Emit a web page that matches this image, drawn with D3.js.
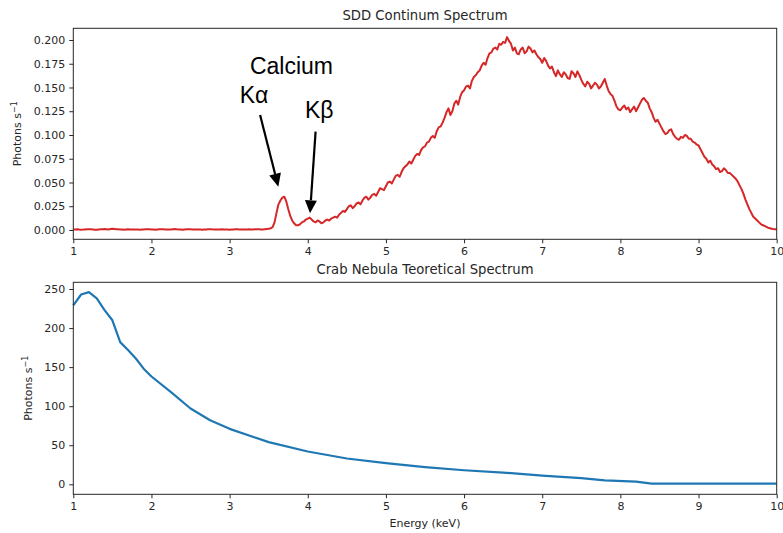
<!DOCTYPE html>
<html>
<head>
<meta charset="utf-8">
<script src="https://cdn.jsdelivr.net/npm/d3@7"></script>
<style>
  html, body { margin: 0; padding: 0; background: #fff; }
  svg text { font-family: "DejaVu Sans", sans-serif; fill: #262626; }
  .note { font-family: "Liberation Sans", Arial, sans-serif; fill: #000; }
</style>
</head>
<body>
<svg id="chart" width="783" height="533"></svg>
<script>
// SDD continuum spectrum: 0.025 keV channels starting at 1 keV (one row = 0.5 keV)
const sddStart = 1.0;
const sddStep = 0.025;
const sddCounts = [
  0.0004, 0.0006, 0.0008, 0.0005, 0.0003, 0.0004, 0.0006, 0.0008, 0.0009, 0.0007, 0.0005, 0.0003, 0.0002, 0.0005, 0.0007, 0.0009, 0.0010, 0.0008, 0.0006, 0.0010,
  0.0012, 0.0011, 0.0009, 0.0007, 0.0005, 0.0004, 0.0003, 0.0005, 0.0007, 0.0006, 0.0004, 0.0005, 0.0006, 0.0004, 0.0002, 0.0004, 0.0005, 0.0007, 0.0008, 0.0007,
  0.0006, 0.0005, 0.0003, 0.0005, 0.0007, 0.0008, 0.0009, 0.0006, 0.0004, 0.0005, 0.0006, 0.0008, 0.0010, 0.0007, 0.0005, 0.0004, 0.0003, 0.0005, 0.0007, 0.0008,
  0.0008, 0.0006, 0.0004, 0.0005, 0.0006, 0.0004, 0.0002, 0.0004, 0.0005, 0.0007, 0.0009, 0.0007, 0.0006, 0.0005, 0.0004, 0.0006, 0.0007, 0.0006, 0.0005, 0.0004,
  0.0003, 0.0005, 0.0006, 0.0007, 0.0008, 0.0006, 0.0005, 0.0004, 0.0004, 0.0006, 0.0007, 0.0006, 0.0006, 0.0008, 0.0009, 0.0007, 0.0005, 0.0006, 0.0008, 0.0010,
  0.0012, 0.0018, 0.003, 0.008, 0.018, 0.027, 0.031, 0.034, 0.035, 0.030, 0.022, 0.015, 0.010, 0.007, 0.005, 0.005, 0.006, 0.008, 0.009, 0.011,
  0.012, 0.013, 0.011, 0.009, 0.008, 0.010, 0.009, 0.007, 0.008, 0.010, 0.011, 0.010, 0.012, 0.013, 0.014, 0.013, 0.016, 0.018, 0.020, 0.019,
  0.022, 0.025, 0.026, 0.023, 0.025, 0.028, 0.029, 0.027, 0.031, 0.034, 0.035, 0.032, 0.034, 0.037, 0.038, 0.036, 0.040, 0.044, 0.043, 0.042,
  0.046, 0.050, 0.051, 0.049, 0.053, 0.057, 0.058, 0.056, 0.061, 0.065, 0.067, 0.069, 0.072, 0.070, 0.074, 0.078, 0.080, 0.079, 0.084, 0.087,
  0.088, 0.092, 0.093, 0.097, 0.099, 0.097, 0.104, 0.108, 0.109, 0.113, 0.118, 0.124, 0.128, 0.121, 0.125, 0.133, 0.136, 0.132, 0.140, 0.145,
  0.147, 0.151, 0.152, 0.149, 0.157, 0.161, 0.163, 0.166, 0.168, 0.173, 0.176, 0.174, 0.181, 0.186, 0.187, 0.191, 0.192, 0.190, 0.196, 0.195,
  0.198, 0.197, 0.203, 0.199, 0.196, 0.189, 0.192, 0.186, 0.185, 0.190, 0.192, 0.186, 0.188, 0.193, 0.191, 0.187, 0.189, 0.185, 0.182, 0.180,
  0.176, 0.181, 0.178, 0.173, 0.170, 0.172, 0.166, 0.162, 0.168, 0.164, 0.161, 0.166, 0.164, 0.160, 0.159, 0.167, 0.165, 0.161, 0.167, 0.163,
  0.158, 0.154, 0.151, 0.156, 0.154, 0.149, 0.152, 0.155, 0.153, 0.149, 0.151, 0.155, 0.159, 0.152, 0.146, 0.143, 0.141, 0.136, 0.130, 0.127,
  0.126, 0.129, 0.131, 0.127, 0.129, 0.124, 0.127, 0.130, 0.125, 0.129, 0.133, 0.137, 0.139, 0.136, 0.134, 0.128, 0.124, 0.118, 0.114, 0.116,
  0.112, 0.108, 0.104, 0.101, 0.102, 0.105, 0.106, 0.101, 0.098, 0.096, 0.095, 0.098, 0.097, 0.100, 0.099, 0.096, 0.096, 0.093, 0.092, 0.090,
  0.089, 0.085, 0.081, 0.077, 0.075, 0.071, 0.073, 0.069, 0.067, 0.064, 0.065, 0.061, 0.062, 0.065, 0.063, 0.060, 0.060, 0.058, 0.056, 0.054,
  0.051, 0.047, 0.043, 0.038, 0.032, 0.027, 0.022, 0.018, 0.014, 0.012, 0.010, 0.008, 0.006, 0.005, 0.004, 0.003, 0.002, 0.0015, 0.001, 0.0009,
  0.0008
];

// Crab Nebula theoretical spectrum
const crabEnergy = [1.0, 1.1, 1.2, 1.3, 1.4, 1.5, 1.6, 1.7, 1.8, 1.9, 2.0, 2.25, 2.5, 2.75, 3.0,
  3.5, 4.0, 4.5, 5.0, 5.5, 6.0, 6.5, 7.0, 7.5, 7.8, 8.2, 8.4, 9.0, 10.0];
const crabPhotons = [229, 243, 246, 238, 223, 210, 182, 172, 161, 148, 138, 118, 97, 82, 71,
  54, 42, 33, 27, 22, 18, 15, 11, 8, 5, 3.5, 0.8, 0.8, 0.8];

const energyTicks = [1, 2, 3, 4, 5, 6, 7, 8, 9, 10];
const sddTicks = [0, 0.025, 0.05, 0.075, 0.1, 0.125, 0.15, 0.175, 0.2];
const crabTicks = [0, 50, 100, 150, 200, 250];

// annotations, in data coordinates of the top panel
const notes = [
  { text: 'Calcium', e: 3.26, v: 0.1645 },
  { text: 'Kα', e: 3.13, v: 0.1334 },
  { text: 'Kβ', e: 3.965, v: 0.1184 }
];
const arrows = [
  { from: [3.39, 0.121], to: [3.623, 0.0456] },
  { from: [4.10, 0.1035], to: [4.029, 0.0176] }
];

const svg = d3.select('#chart');
const L = 73.3, R = 776.7;

const x = d3.scaleLinear().domain([1, 10]).range([L, R]);

function panel(top, bottom, yDomain, yTicks, fmt, title, titleY, labelX) {
  const y = d3.scaleLinear().domain(yDomain).range([bottom, top]);
  const g = svg.append('g');

  g.append('g')
    .attr('transform', `translate(0,${bottom})`)
    .call(d3.axisBottom(x).tickValues(energyTicks).tickFormat(d3.format('d')).tickSize(4).tickPadding(4))
    .call(a => a.select('.domain').remove())
    .call(a => a.selectAll('line').attr('stroke', '#262626'))
    .call(a => a.selectAll('text').attr('font-size', 11).attr('font-family', 'DejaVu Sans'));

  g.append('g')
    .attr('transform', `translate(${L},0)`)
    .call(d3.axisLeft(y).tickValues(yTicks).tickFormat(fmt).tickSize(4).tickPadding(4))
    .call(a => a.select('.domain').remove())
    .call(a => a.selectAll('line').attr('stroke', '#262626'))
    .call(a => a.selectAll('text').attr('font-size', 11).attr('font-family', 'DejaVu Sans'));

  g.append('text')
    .attr('x', (L + R) / 2).attr('y', titleY)
    .attr('text-anchor', 'middle').attr('font-size', 13.2)
    .text(title);

  const yl = g.append('text')
    .attr('transform', `translate(${labelX},${(top + bottom) / 2}) rotate(-90)`)
    .attr('text-anchor', 'middle').attr('font-size', 11);
  yl.append('tspan').text('Photons s');
  yl.append('tspan').attr('dy', -4).attr('font-size', 8).text('−1');

  return { g, y, top, bottom };
}

function frame(p) {
  p.g.append('rect')
    .attr('x', L).attr('y', p.top)
    .attr('width', R - L).attr('height', p.bottom - p.top)
    .attr('fill', 'none').attr('stroke', '#262626').attr('stroke-width', 1);
}

// top panel
const p1 = panel(28.3, 239.3, [-0.0098, 0.2123], sddTicks, d3.format('.3f'), 'SDD Continum Spectrum', 19.5, 21);
const sdd = sddCounts.map((v, i) => ({ e: sddStart + i * sddStep, v }));
p1.g.append('path')
  .datum(sdd)
  .attr('fill', 'none')
  .attr('stroke', '#d62728')
  .attr('stroke-width', 2)
  .attr('stroke-linejoin', 'round')
  .attr('d', d3.line().x(d => x(d.e)).y(d => p1.y(d.v)));
frame(p1);

notes.forEach(n => {
  p1.g.append('text').attr('class', 'note')
    .attr('x', x(n.e)).attr('y', p1.y(n.v))
    .attr('font-size', 23)
    .text(n.text);
});

arrows.forEach(a => {
  const x0 = x(a.from[0]), y0 = p1.y(a.from[1]);
  const x1 = x(a.to[0]), y1 = p1.y(a.to[1]);
  const ang = Math.atan2(y1 - y0, x1 - x0);
  const hl = 13, hw = 6;
  const bx = x1 - hl * Math.cos(ang), by = y1 - hl * Math.sin(ang);
  p1.g.append('line')
    .attr('x1', x0).attr('y1', y0).attr('x2', bx).attr('y2', by)
    .attr('stroke', '#000').attr('stroke-width', 2.2);
  p1.g.append('path')
    .attr('d', d3.line()([
      [x1, y1],
      [bx + hw * Math.sin(ang), by - hw * Math.cos(ang)],
      [bx - hw * Math.sin(ang), by + hw * Math.cos(ang)]
    ]) + 'Z')
    .attr('fill', '#000');
});

// bottom panel
const p2 = panel(282.3, 494.3, [-12.8, 258.6], crabTicks, d3.format('d'), 'Crab Nebula Teoretical Spectrum', 273.5, 32);
p2.g.append('path')
  .datum(crabEnergy.map((e, i) => ({ e, v: crabPhotons[i] })))
  .attr('fill', 'none')
  .attr('stroke', '#1f77b4')
  .attr('stroke-width', 2.2)
  .attr('stroke-linejoin', 'round')
  .attr('d', d3.line().x(d => x(d.e)).y(d => p2.y(d.v)));
frame(p2);

svg.append('text')
  .attr('x', (L + R) / 2).attr('y', 527)
  .attr('text-anchor', 'middle').attr('font-size', 11)
  .text('Energy (keV)');
</script>
</body>
</html>
